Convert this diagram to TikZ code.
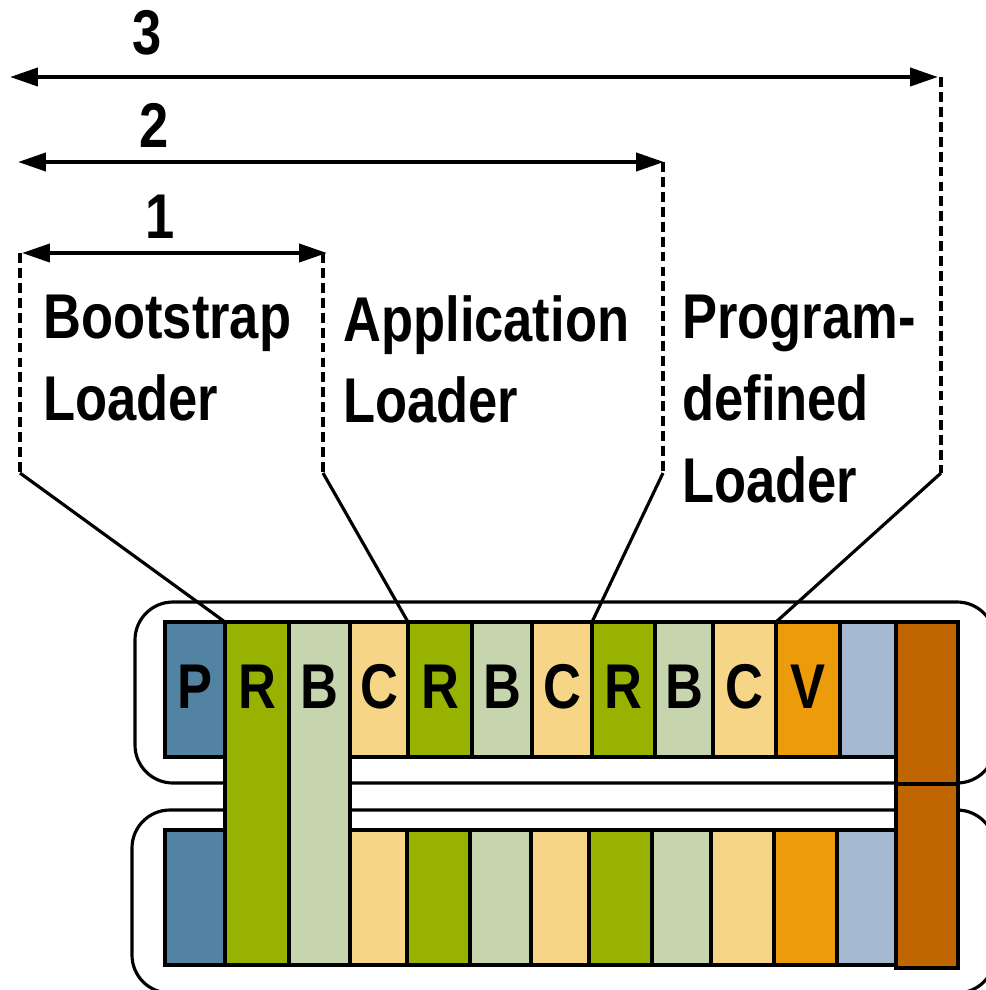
\documentclass[tikz,border=0pt]{standalone}
\usepackage{fontspec}
\newfontfamily\nb[FakeStretch=0.83]{Liberation Sans}
\usetikzlibrary{arrows.meta}
\definecolor{cP}{HTML}{5383A3}
\definecolor{cR}{HTML}{97B200}
\definecolor{cB}{HTML}{C6D5AD}
\definecolor{cC}{HTML}{F7D587}
\definecolor{cV}{HTML}{EC9B0A}
\definecolor{cE}{HTML}{A4B9CF}
\definecolor{cW}{HTML}{BF6600}
\newcommand\mycell[6]{%
  \node[cell, fill=#6, minimum width={(#3-#2)*0.02cm}, minimum height={(#5-#4)*0.02cm}] (#1) at (#2,#4) {};}
\begin{document}
\begin{tikzpicture}[x=0.02cm,y=-0.02cm,
  cell/.style={draw, line width=1.8pt, inner sep=0pt, outer sep=0pt, anchor=north west},
  big/.style={font=\nb\bfseries\fontsize{36}{46.5}\selectfont, inner sep=0pt, text=black},
  biglbl/.style={big, align=left, anchor=north west},
  outline/.style={line width=1.8pt, rounded corners=0.76cm},
  dim/.style={line width=2.3pt, {Triangle[length=0.56cm,width=0.36cm]}-{Triangle[length=0.56cm,width=0.36cm]}},
  guide/.style={line width=2.6pt, dash pattern=on 5.6pt off 2.9pt},
  pointer/.style={line width=1.8pt}]
\useasboundingbox (0,0) rectangle (986,990);

% outlines of the two rows
\begin{scope}
  \clip (0,0) rectangle (986,990);
  \draw[outline] (135,602) rectangle (995,783);
  \draw[outline] (132,810) rectangle (995,993);
\end{scope}

% top row
\mycell{tP}{165}{225}{622}{757}{cP}
\mycell{tC1}{350}{408}{622}{757}{cC}
\mycell{tR2}{408}{472}{622}{757}{cR}
\mycell{tB2}{472}{532}{622}{757}{cB}
\mycell{tC2}{532}{592}{622}{757}{cC}
\mycell{tR3}{592}{655}{622}{757}{cR}
\mycell{tB3}{655}{713}{622}{757}{cB}
\mycell{tC3}{713}{776}{622}{757}{cC}
\mycell{tV}{776}{840}{622}{757}{cV}
\mycell{tE}{840}{896}{622}{757}{cE}
\mycell{tW}{896}{958}{622}{784}{cW}
% bottom row
\mycell{bP}{165}{225}{830}{965}{cP}
\mycell{bC1}{350}{407}{830}{965}{cC}
\mycell{bR2}{407}{470}{830}{965}{cR}
\mycell{bB2}{470}{531}{830}{965}{cB}
\mycell{bC2}{531}{589}{830}{965}{cC}
\mycell{bR3}{589}{652}{830}{965}{cR}
\mycell{bB3}{652}{711}{830}{965}{cB}
\mycell{bC3}{711}{774}{830}{965}{cC}
\mycell{bV}{774}{837}{830}{965}{cV}
\mycell{bE}{837}{896}{830}{965}{cE}
\mycell{bW}{896}{958}{784}{968}{cW}
% shared tall columns
\mycell{R1}{225}{289}{622}{965}{cR}
\mycell{B1}{289}{350}{622}{965}{cB}

% letters
\coordinate (base) at (0,708);
\foreach \c/\t in {tP/P, R1/R, B1/B, tC1/C, tR2/R, tB2/B, tC2/C, tR3/R, tB3/B, tC3/C, tV/V}
  \node[big, anchor=base] at (\c.north |- base) {\t};

% loader labels
\node[biglbl] (lb) at (43,295) {Bootstrap\\Loader};
\node[biglbl] (la) at (343,295) {Application\\Loader};
\node[biglbl] (lp) at (682,295) {Program-\\defined\\Loader};

% guide coordinates
\coordinate (g1l) at (20,253);
\coordinate (g1r) at (323,253);
\coordinate (g2r) at (663,162);
\coordinate (g3r) at (941,77);
\coordinate (e1l) at (20,473);
\coordinate (e1r) at (323,473);
\coordinate (e2r) at (663,473);
\coordinate (e3r) at (941,473);
\coordinate (a1l) at (22,253);
\coordinate (a1r) at (327,253);
\coordinate (a2l) at (18,162);
\coordinate (a2r) at (664,162);
\coordinate (a3l) at (10,77);
\coordinate (a3r) at (938,77);

% dashed guides
\draw[guide] (g1l) -- (e1l);
\draw[guide] (g1r) -- (e1r);
\draw[guide] (g2r) -- (e2r);
\draw[guide] (g3r) -- (e3r);

% pointers to the cells
\draw[pointer] (e1l) -- (R1.north west);
\draw[pointer] (e1r) -- (tR2.north west);
\draw[pointer] (e2r) -- (tR3.north west);
\draw[pointer] (e3r) -- (tV.north west);

% dimension arrows
\draw[dim] (a1l) -- (a1r);
\draw[dim] (a2l) -- (a2r);
\draw[dim] (a3l) -- (a3r);
\node[big, anchor=base] (n1) at (160,238) {1};
\node[big, anchor=base] (n2) at (154,147) {2};
\node[big, anchor=base] (n3) at (147,55) {3};
\end{tikzpicture}
\end{document}
